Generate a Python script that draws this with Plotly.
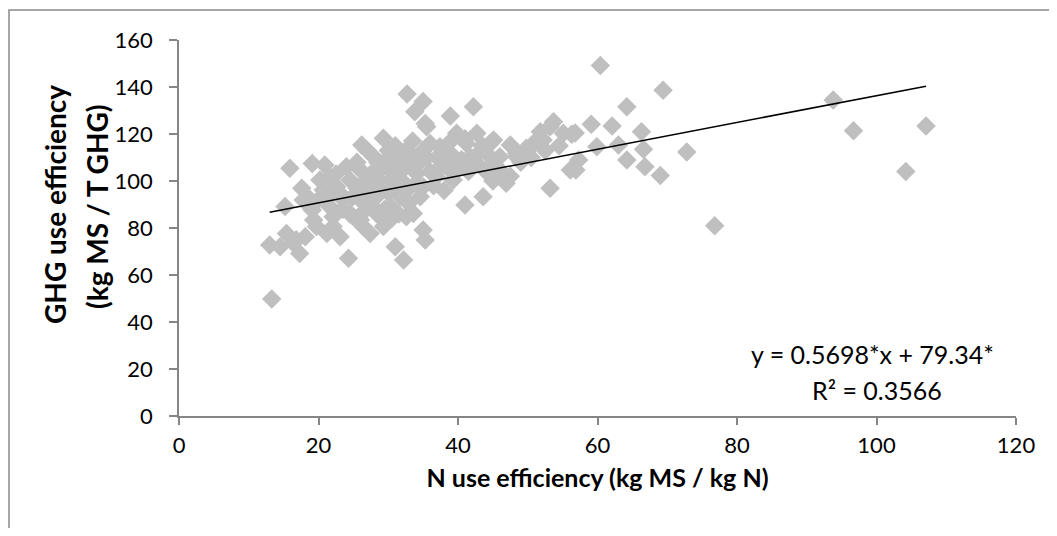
import plotly.graph_objects as go

# N use efficiency (kg MS / kg N)
n_use = [13.3, 13.0, 14.5, 15.2, 15.9, 15.4, 16.4, 17.3, 17.6, 17.8, 18.1, 16.8, 19.1, 19.1, 19.3,
         19.7, 20.2, 20.7, 20.9, 21.2, 21.6, 21.6, 22.1, 22.1, 22.6, 23.1, 23.6, 24.0, 24.3, 24.5,
         25.0, 26.0, 26.0, 26.0, 26.2, 26.4, 26.9, 27.4, 27.9, 28.3, 28.3, 29.3, 29.3, 29.3, 29.3,
         30.3, 30.3, 31.0, 31.2, 31.7, 31.7, 31.7, 32.2, 32.6, 32.6, 32.7, 32.9, 33.6, 33.6, 33.8,
         34.1, 34.6, 35.0, 35.0, 35.0, 35.3, 35.3, 35.5, 36.9, 37.4, 38.4, 38.9, 38.9, 39.3, 39.3,
         39.8, 41.0, 41.2, 41.7, 42.2, 42.7, 42.7, 43.6, 44.6, 44.6, 45.1, 45.5, 46.0, 46.0, 46.9,
         47.5, 48.4, 48.4, 49.8, 50.0, 50.8, 51.8, 51.8, 52.2, 53.2, 53.2, 53.7, 55.1, 56.1, 56.3,
         56.8, 57.3, 56.9, 59.1, 59.9, 60.4, 62.1, 63.0, 64.2, 64.2, 66.3, 66.6, 66.8, 69.0, 69.4,
         72.8, 76.8, 93.8, 96.7, 104.2, 107.1,
         23.0, 24.8, 25.5, 27.0, 28.0, 29.0, 30.0, 31.0, 32.0, 33.0, 34.0, 27.5, 28.5, 30.5, 32.5,
         33.5, 36.0, 36.5, 37.5, 35.5, 34.5, 30.0, 28.5, 25.5, 22.5, 23.5, 24.5, 27.5, 29.5, 31.5,
         30.5, 26.5, 21.5, 20.0, 18.5, 40.0, 40.5, 41.5, 43.0, 44.0, 47.5, 49.0, 50.5, 52.5, 54.5,
         45.0, 38.0, 37.0, 36.0, 39.0, 41.0, 43.5, 35.0, 33.5, 31.0, 30.0, 27.0]

# GHG use efficiency (kg MS / T GHG)
ghg_use = [49.8, 72.8, 72.0, 89.1, 105.4, 77.7, 73.5, 69.2, 96.9, 91.9, 76.3, 75.0, 107.5, 87.7, 83.4,
           80.6, 100.4, 96.2, 106.8, 77.7, 101.8, 89.1, 84.8, 80.6, 97.6, 76.3, 91.9, 106.1, 67.1, 100.4,
           84.8, 91.9, 83.4, 104.7, 115.3, 80.6, 100.4, 77.7, 110.3, 86.2, 93.3, 118.2, 106.1, 80.6, 83.4,
           89.1, 100.4, 72.0, 108.9, 111.8, 104.7, 93.3, 66.4, 113.2, 84.8, 137.0, 90.5, 109.6, 86.2, 129.5,
           103.3, 93.3, 133.8, 97.6, 79.1, 74.9, 124.5, 123.1, 101.8, 114.6, 107.5, 127.7, 111.8, 100.4, 103.3,
           120.3, 89.8, 116.0, 110.3, 131.6, 120.3, 107.5, 93.3, 116.0, 110.3, 117.4, 106.1, 104.7, 110.3, 99.0,
           115.3, 110.3, 111.8, 113.9, 113.2, 116.0, 117.4, 121.0, 117.4, 96.9, 123.1, 125.2, 120.3, 104.7, 119.9,
           120.4, 108.9, 104.7, 124.1, 114.6, 149.1, 123.4, 115.3, 131.6, 108.9, 121.0, 113.5, 106.1, 102.3, 138.6,
           112.3, 81.0, 134.5, 121.4, 104.0, 123.4,
           95.0, 93.0, 97.0, 95.0, 98.0, 96.0, 95.0, 98.0, 100.0, 97.0, 99.0, 103.0, 101.0, 104.0, 106.0,
           105.0, 104.0, 98.0, 106.0, 110.0, 108.0, 110.0, 108.0, 108.0, 103.0, 88.0, 86.0, 90.0, 88.0, 86.0,
           84.0, 87.0, 94.0, 92.0, 93.0, 105.0, 109.0, 104.0, 112.0, 104.0, 102.0, 108.0, 110.0, 113.0, 115.0,
           100.0, 96.0, 110.0, 116.0, 117.0, 118.0, 115.0, 113.0, 117.0, 115.0, 113.0, 113.0]

# Linear trend (from the chart's equation)
slope = 0.5698
intercept = 79.34
trend_x = [min(n_use), max(n_use)]
trend_y = [slope * v + intercept for v in trend_x]

x_ticks = [0, 20, 40, 60, 80, 100, 120]
y_ticks = [0, 20, 40, 60, 80, 100, 120, 140, 160]

x_title = "N use efficiency (kg MS / kg N)"
y_title_lines = ["GHG use efficiency", "(kg MS / T GHG)"]
equation_text = "y = 0.5698*x + 79.34*"
r2_text = "R² = 0.3566"

FONT = "Lato"
AXIS_COLOR = "#868686"

# page body has an 8px margin; plot area sits at page x 179-1016, y 40-416
def px(xp):
    return (xp - 179) / 837

def py(yp):
    return (416 - yp) / 376

fig = go.Figure()
fig.add_trace(go.Scatter(
    x=n_use, y=ghg_use, mode="markers",
    marker=dict(symbol="diamond", size=15, color="#BFBFBF", line=dict(width=0)),
    showlegend=False, hoverinfo="x+y"))
fig.add_trace(go.Scatter(
    x=trend_x, y=trend_y, mode="lines",
    line=dict(color="black", width=1.5), showlegend=False))

fig.update_layout(
    width=1041, height=520,
    margin=dict(l=171, r=33, t=32, b=112),
    paper_bgcolor="white", plot_bgcolor="white",
    font=dict(family=FONT, size=22, color="black"),
    xaxis=dict(range=[0, 120], tickvals=x_ticks, showgrid=False, zeroline=False,
               showline=True, linecolor=AXIS_COLOR, linewidth=1.5,
               ticks="outside", ticklen=7, tickcolor=AXIS_COLOR, tickwidth=1.5,
               tickfont=dict(family=FONT, size=22), ticklabelstandoff=2,
               title=dict(text="<b>" + x_title + "</b>",
                          font=dict(family=FONT, size=25), standoff=12)),
    yaxis=dict(range=[0, 160], tickvals=y_ticks, showgrid=False, zeroline=False,
               showline=True, linecolor=AXIS_COLOR, linewidth=1.5,
               ticks="outside", ticklen=8, tickcolor=AXIS_COLOR, tickwidth=1.5,
               tickfont=dict(family=FONT, size=22), ticklabelstandoff=12),
    shapes=[dict(type="rect", xref="paper", yref="paper",
                 x0=px(9), x1=px(1070), y0=py(545), y1=py(10),
                 line=dict(color="#898989", width=1.5), layer="below")],
    annotations=[
        dict(text="<b>" + y_title_lines[0] + "</b>", xref="paper", yref="paper",
             x=px(55), y=py(205), textangle=-90, showarrow=False,
             xanchor="center", yanchor="middle", font=dict(family=FONT, size=28)),
        dict(text="<b>" + y_title_lines[1] + "</b>", xref="paper", yref="paper",
             x=px(97), y=py(207), textangle=-90, showarrow=False,
             xanchor="center", yanchor="middle", font=dict(family=FONT, size=28)),
        dict(text=equation_text, xref="paper", yref="paper",
             x=px(749), y=py(354), showarrow=False,
             xanchor="left", yanchor="middle", font=dict(family=FONT, size=25)),
        dict(text=r2_text, xref="paper", yref="paper",
             x=px(810), y=py(390), showarrow=False,
             xanchor="left", yanchor="middle", font=dict(family=FONT, size=25)),
    ],
)

fig.write_html("out.html")
